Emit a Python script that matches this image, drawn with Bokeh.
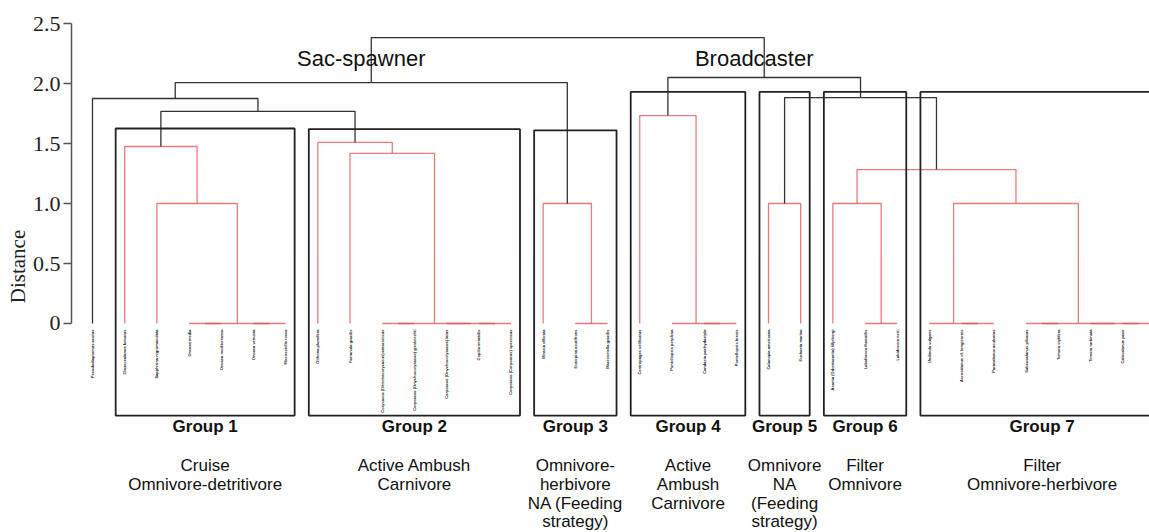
from bokeh.plotting import figure
from bokeh.models import FixedTicker, Range1d
from bokeh.embed import file_html
from bokeh.resources import INLINE
from bokeh.core.properties import value

# ---------------- data ----------------
leaf_names = [
    "Pseudodiaptomus acutus",
    "Clausocalanus furcatus", "Sapphirina nigromaculata", "Oncaea media",
    "Oncaea mediterranea", "Oncaea venusta", "Microsetella rosea",
    "Oithona plumifera", "Farranula gracilis",
    "Corycaeus (Ditrichocorycaeus) amazonicus",
    "Corycaeus (Onychocorycaeus) giesbrechti",
    "Corycaeus (Onychocorycaeus) latus", "Copilia mirabilis",
    "Corycaeus (Corycaeus) speciosus",
    "Miracia efferata", "Euterpina acutifrons", "Macrosetella gracilis",
    "Centropages velificatus", "Pontellopsis perplexa",
    "Candacia pachydactyla", "Pontellopsis brevis",
    "Calanopia americana", "Euchaeta marina",
    "Acartia (Odontacartia) lilljeborgi", "Labidocera fluviatilis",
    "Labidocera nerii",
    "Undinula vulgaris", "Acrocalanus cf. longicornis",
    "Paracalanus aculeatus", "Subeucalanus pileatus", "Temora stylifera",
    "Temora turbinata", "Calocalanus pavo", "Nannocalanus minor",
]

# linkage: merge k creates node id len(leaf_names)+k
merge_left = [5, 3, 35, 2, 1, 12, 11, 9, 41, 8, 7, 38, 0, 15, 14, 46,
              19, 18, 17, 21, 24, 23, 27, 26, 32, 31, 29, 60, 57, 55, 53, 52, 49]
merge_right = [6, 4, 34, 36, 37, 13, 39, 10, 40, 42, 43, 44, 45, 16, 47, 48,
               20, 50, 51, 22, 25, 54, 28, 56, 33, 58, 30, 59, 61, 62, 63, 64, 65]
merge_height = [0.0, 0.0, 0.0, 1.0, 1.475, 0.0, 0.0, 0.0, 0.0, 1.417, 1.51,
                1.767, 1.875, 0.0, 1.0, 2.008,
                0.0, 0.0, 1.733, 1.0, 0.0, 1.0, 0.0, 0.0, 0.0, 0.0, 0.0, 0.0,
                1.0, 1.283, 1.883, 2.05, 2.383]
color_threshold = 1.75

group_names = ["Group 1", "Group 2", "Group 3", "Group 4", "Group 5",
               "Group 6", "Group 7"]
group_first = [1, 7, 14, 17, 21, 23, 26]
group_last = [6, 13, 16, 20, 22, 25, 33]
group_box_top = [1.625, 1.62, 1.61, 1.93, 1.93, 1.93, 1.93]
group_box_bottom = -0.767
group_descriptions = [
    "Cruise\nOmnivore-detritivore",
    "Active Ambush\nCarnivore",
    "Omnivore-\nherbivore\nNA (Feeding\nstrategy)",
    "Active\nAmbush\nCarnivore",
    "Omnivore\nNA\n(Feeding\nstrategy)",
    "Filter\nOmnivore",
    "Filter\nOmnivore-herbivore",
]
clade_names = ["Sac-spawner", "Broadcaster"]
y_ticks = [0, 0.5, 1.0, 1.5, 2.0, 2.5]
y_tick_labels = ["0", "0.5", "1.0", "1.5", "2.0", "2.5"]

# ---------------- tree geometry ----------------
n = len(leaf_names)
pos = [float(i) for i in range(n)]
hgt = [0.0] * n
red_xs, red_ys, blk_xs, blk_ys = [], [], [], []
for l, r, h in zip(merge_left, merge_right, merge_height):
    xs = [pos[l], pos[l], pos[r], pos[r]]
    ys = [hgt[l], h, h, hgt[r]]
    if h < color_threshold:
        red_xs.append(xs); red_ys.append(ys)
    else:
        blk_xs.append(xs); blk_ys.append(ys)
    pos.append((pos[l] + pos[r]) / 2.0)
    hgt.append(h)

# ---------------- figure ----------------
x_lo, x_hi = -0.652, 32.836
p = figure(width=1149, height=532, output_backend="svg", toolbar_location=None,
           x_axis_location=None, y_axis_location="left",
           x_range=Range1d(x_lo, x_hi), y_range=Range1d(-1.7417, 2.6917),
           min_border_left=71, min_border_right=0, min_border_top=0,
           min_border_bottom=0)
p.outline_line_color = None
p.xgrid.visible = False
p.ygrid.visible = False
p.background_fill_color = "white"
p.border_fill_color = "white"

ax = p.yaxis[0]
ax.ticker = FixedTicker(ticks=y_ticks)
ax.major_label_overrides = {t: s for t, s in zip(y_ticks, y_tick_labels)}
ax.bounds = (0, 2.5)
ax.axis_line_color = "#555555"
ax.axis_line_width = 1.5
ax.major_tick_line_color = "#555555"
ax.major_tick_line_width = 1.5
ax.major_tick_in = 0
ax.major_tick_out = 8
ax.minor_tick_line_color = None
ax.major_label_standoff = 3
ax.major_label_text_font = "Liberation Serif"
ax.major_label_text_font_size = "22px"
ax.major_label_text_color = "#222222"
ax.axis_label = "Distance"
ax.axis_label_text_font = "Liberation Serif"
ax.axis_label_text_font_size = "21px"
ax.axis_label_text_font_style = "normal"
ax.axis_label_text_color = "#222222"
ax.axis_label_standoff = 0

# dendrogram links
p.multi_line(red_xs, red_ys, line_color="#e05050", line_alpha=0.75,
             line_width=1.3)
p.multi_line(blk_xs, blk_ys, line_color="#333333", line_width=1.3)

# group boxes
pad = 0.28
lefts = [f - pad for f in group_first]
rights = [l + pad for l in group_last]
p.quad(left=lefts, right=rights, top=group_box_top,
       bottom=[group_box_bottom] * len(lefts),
       fill_color=None, line_color="#222222", line_width=1.8)

# leaf labels (only those inside the visible range)
vis = [i for i in range(n) if x_lo < i < x_hi]
p.text(x=vis, y=[0.0] * len(vis), text=[leaf_names[i] for i in vis],
       angle=1.5708, text_align="right", text_baseline="middle", y_offset=6,
       text_font=value("Liberation Sans"), text_font_style="bold",
       text_font_size="4px", text_color="#222222")

# group labels
centers = [(a + b) / 2.0 for a, b in zip(lefts, rights)]
p.text(x=centers, y=[-0.858] * len(centers), text=group_names,
       text_align="center", text_baseline="middle",
       text_font=value("Liberation Sans"), text_font_style="bold",
       text_font_size="17px", text_color="#111111")

# descriptions (one glyph row per line)
dx, dy, dt = [], [], []
for c, d in zip(centers, group_descriptions):
    for k, line in enumerate(d.split("\n")):
        dx.append(c); dy.append(-1.183 - k * 0.157); dt.append(line)
p.text(x=dx, y=dy, text=dt, text_align="center", text_baseline="middle",
       text_font=value("Liberation Sans"), text_font_size="17px",
       text_color="#111111")

# clade labels at root's children
root_children = [merge_left[-1], merge_right[-1]]
p.text(x=[pos[c] for c in root_children], y=[2.21, 2.21], text=clade_names,
       text_align="center", text_baseline="middle", x_offset=-10,
       text_font=value("Liberation Sans"), text_font_size="22px",
       text_color="#111111")

open("out.html", "w").write(file_html(p, INLINE))
